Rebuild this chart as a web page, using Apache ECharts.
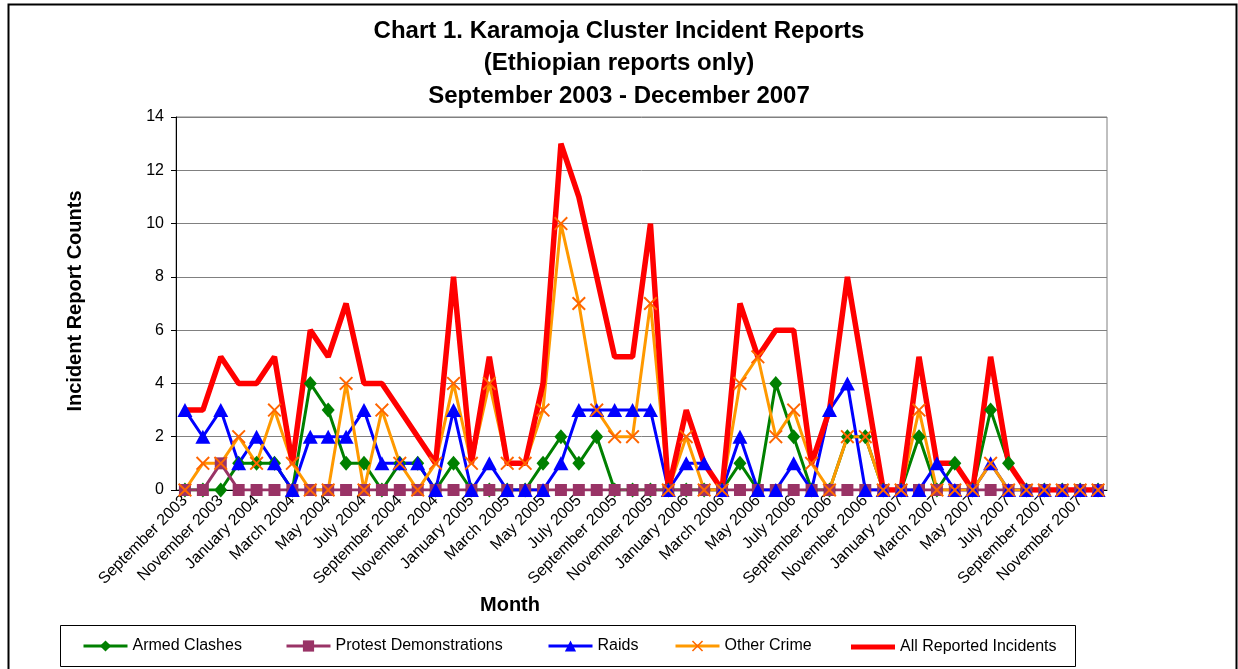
<!DOCTYPE html>
<html>
<head>
<meta charset="utf-8">
<script src="https://cdn.jsdelivr.net/npm/echarts@6/dist/echarts.min.js"></script>
<style>
  html, body { margin: 0; padding: 0; background: #fff; }
  #chart { width: 1238px; height: 669px; }
</style>
</head>
<body>
<div id="chart"></div>
<script>
// months Sep 2003 .. Dec 2007
var months = [
    'September 2003', 'October 2003', 'November 2003', 'December 2003',
    'January 2004', 'February 2004', 'March 2004', 'April 2004', 'May 2004', 'June 2004',
    'July 2004', 'August 2004', 'September 2004', 'October 2004', 'November 2004', 'December 2004',
    'January 2005', 'February 2005', 'March 2005', 'April 2005', 'May 2005', 'June 2005',
    'July 2005', 'August 2005', 'September 2005', 'October 2005', 'November 2005', 'December 2005',
    'January 2006', 'February 2006', 'March 2006', 'April 2006', 'May 2006', 'June 2006',
    'July 2006', 'August 2006', 'September 2006', 'October 2006', 'November 2006', 'December 2006',
    'January 2007', 'February 2007', 'March 2007', 'April 2007', 'May 2007', 'June 2007',
    'July 2007', 'August 2007', 'September 2007', 'October 2007', 'November 2007', 'December 2007'
];
var armedClashes = [0, 0, 0, 1, 1, 1, 0, 4, 3, 1, 1, 0, 1, 1, 0, 1, 0, 0, 0, 0, 1, 2, 1, 2, 0, 0,
    0, 0, 0, 0, 0, 1, 0, 4, 2, 0, 0, 2, 2, 0, 0, 2, 0, 1, 0, 3, 1, 0, 0, 0, 0, 0];
var protests = [0, 0, 1, 0, 0, 0, 0, 0, 0, 0, 0, 0, 0, 0, 0, 0, 0, 0, 0, 0, 0, 0, 0, 0, 0, 0,
    0, 0, 0, 0, 0, 0, 0, 0, 0, 0, 0, 0, 0, 0, 0, 0, 0, 0, 0, 0, 0, 0, 0, 0, 0, 0];
var raids = [3, 2, 3, 1, 2, 1, 0, 2, 2, 2, 3, 1, 1, 1, 0, 3, 0, 1, 0, 0, 0, 1, 3, 3, 3, 3,
    3, 0, 1, 1, 0, 2, 0, 0, 1, 0, 3, 4, 0, 0, 0, 0, 1, 0, 0, 1, 0, 0, 0, 0, 0, 0];
var otherCrime = [0, 1, 1, 2, 1, 3, 1, 0, 0, 4, 0, 3, 1, 0, 1, 4, 1, 4, 1, 1, 3, 10, 7, 3, 2, 2,
    7, 0, 2, 0, 0, 4, 5, 2, 3, 1, 0, 2, 2, 0, 0, 3, 0, 0, 0, 1, 0, 0, 0, 0, 0, 0];
var allIncidents = [3, 3, 5, 4, 4, 5, 1, 6, 5, 7, 4, 4, 3, 2, 1, 8, 1, 5, 1, 1, 4, 13, 11, 8, 5, 5,
    10, 0, 3, 1, 0, 7, 5, 6, 6, 1, 3, 8, 4, 0, 0, 5, 1, 1, 0, 5, 1, 0, 0, 0, 0, 0];

var FONT = '"Liberation Sans", Arial, sans-serif';
var X_MARK = 'path://M0,1 L1,0 L5,4 L9,0 L10,1 L6,5 L10,9 L9,10 L5,6 L1,10 L0,9 L4,5 Z';

var chart = echarts.init(document.getElementById('chart'));

function legendAt(name, left, extra) {
    var lg = {
        data: [name],
        left: left,
        top: 638,
        padding: 0,
        itemWidth: 44,
        itemHeight: 14,
        itemGap: 4,
        lineStyle: { width: 3 },
        textStyle: { fontFamily: FONT, fontSize: 16, color: '#000' }
    };
    for (var k in extra) lg[k] = extra[k];
    return lg;
}

var option = {
    animation: false,
    backgroundColor: '#fff',
    title: {
        text: 'Chart 1. Karamoja Cluster Incident Reports\n(Ethiopian reports only)\nSeptember 2003 - December 2007',
        left: 'center',
        top: 10,
        textStyle: { fontFamily: FONT, fontSize: 24, fontWeight: 'bold', color: '#000', lineHeight: 32.5 }
    },
    legend: [
        legendAt('Armed Clashes', 82),
        legendAt('Protest Demonstrations', 285),
        legendAt('Raids', 547),
        legendAt('Other Crime', 674),
        legendAt('All Reported Incidents', 851, { icon: 'rect', itemHeight: 5, top: 639 })
    ],
    grid: {
        left: 176, top: 117, right: 131, bottom: 179,
        show: true, borderColor: '#808080', borderWidth: 1
    },
    xAxis: {
        type: 'category',
        data: months,
        boundaryGap: true,
        axisLine: { lineStyle: { color: '#000', width: 1 } },
        axisTick: { interval: 0, length: 4, lineStyle: { color: '#000' } },
        axisLabel: { interval: 1, rotate: 45, margin: 8, fontFamily: FONT, fontSize: 16, color: '#000' }
    },
    yAxis: {
        type: 'value',
        min: 0, max: 14, interval: 2,
        axisLine: { show: true, lineStyle: { color: '#000', width: 1 } },
        axisTick: { show: true, length: 5, lineStyle: { color: '#000' } },
        axisLabel: { margin: 12, fontFamily: FONT, fontSize: 16, color: '#000' },
        splitLine: { lineStyle: { color: '#808080', width: 1 } }
    },
    graphic: [
        {
            type: 'rect', z: -1, silent: true,
            shape: { x: 8.5, y: 4.5, width: 1228, height: 700 },
            style: { fill: 'none', stroke: '#000', lineWidth: 2 }
        },
        {
            type: 'rect', silent: true,
            shape: { x: 60.5, y: 625.5, width: 1015, height: 41 },
            style: { fill: 'none', stroke: '#000', lineWidth: 1 }
        },
        {
            type: 'text', x: 75, y: 301, rotation: Math.PI / 2,
            style: {
                text: 'Incident Report Counts', fontFamily: FONT, fontSize: 20, fontWeight: 'bold',
                fill: '#000', align: 'center', verticalAlign: 'middle'
            }
        },
        {
            type: 'text', x: 510, y: 605,
            style: {
                text: 'Month', fontFamily: FONT, fontSize: 20, fontWeight: 'bold',
                fill: '#000', align: 'center', verticalAlign: 'middle'
            }
        }
    ],
    series: [
        {
            name: 'Armed Clashes', type: 'line', data: armedClashes,
            symbol: 'diamond', symbolSize: [13, 15], showAllSymbol: true,
            lineStyle: { color: '#008000', width: 3 },
            itemStyle: { color: '#008000' }
        },
        {
            name: 'Protest Demonstrations', type: 'line', data: protests,
            symbol: 'rect', symbolSize: 12, showAllSymbol: true,
            lineStyle: { color: '#993366', width: 3 },
            itemStyle: { color: '#993366' }
        },
        {
            name: 'Raids', type: 'line', data: raids,
            symbol: 'triangle', symbolSize: [15, 14], showAllSymbol: true,
            lineStyle: { color: '#0000FF', width: 3 },
            itemStyle: { color: '#0000FF' }
        },
        {
            name: 'Other Crime', type: 'line', data: otherCrime,
            symbol: X_MARK, symbolSize: 14, showAllSymbol: true,
            lineStyle: { color: '#FF9900', width: 3 },
            itemStyle: { color: '#FF6600' }
        },
        {
            name: 'All Reported Incidents', type: 'line', data: allIncidents,
            symbol: 'none',
            lineStyle: { color: '#FF0000', width: 5.5 },
            itemStyle: { color: '#FF0000' }
        }
    ]
};
chart.setOption(option);
</script>
</body>
</html>
